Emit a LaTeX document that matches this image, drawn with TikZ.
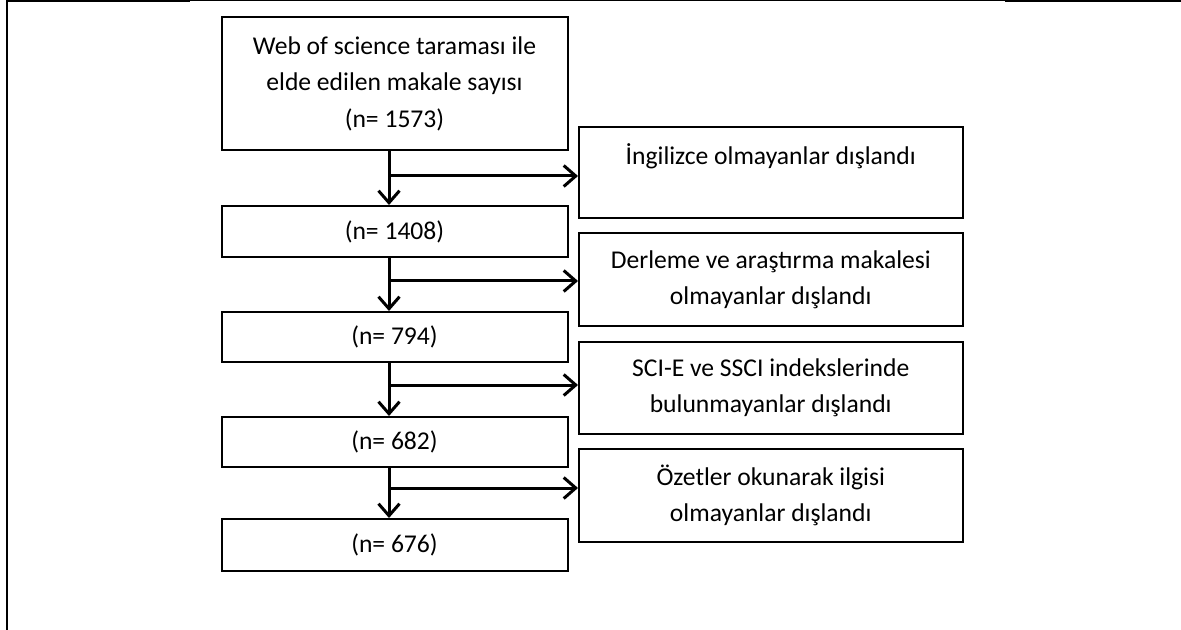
\documentclass[tikz,border=0pt]{standalone}
\usepackage{fontspec}
\setmainfont{Carlito}
\usetikzlibrary{arrows.meta}
\begin{document}
\begin{tikzpicture}[x=0.5pt,y=-0.5pt,
  box/.style={draw, line width=1pt, inner sep=0pt, align=center, font=\fontsize{12.8}{18.2}\selectfont},
  lbox/.style={box, minimum width=173pt},
  rbox/.style={box, minimum width=191.75pt},
  arr/.style={line width=1.5pt, -{Straight Barb[length=6pt,width=10.5pt]}}]
\useasboundingbox (0,0) rectangle (1181,630);
% frame
\draw[line width=1pt] (7,0) -- (7,630);
\draw[line width=1pt] (6,1) -- (190,1);
\draw[line width=0.5pt] (190,0.5) -- (1005,0.5);
\draw[line width=1pt] (1005,1) -- (1181,1);
% left column
\node[lbox, minimum height=66.5pt] (b1) at (394.5,83.5) {Web of science taraması ile\\elde edilen makale sayısı\\(n= 1573)};
\node[lbox, minimum height=25.5pt] (b2) at (394.5,231.5) {(n= 1408)};
\node[lbox, minimum height=25pt] (b3) at (394.5,337) {(n= 794)};
\node[lbox, minimum height=25pt] (b4) at (394.5,442) {(n= 682)};
\node[lbox, minimum height=26pt] (b5) at (394.5,545) {(n= 676)};
% right column
\node[rbox, minimum height=45.5pt] (r1) at (770.75,172.5) {İngilizce olmayanlar dışlandı\\[-5pt]\strut};
\node[rbox, minimum height=46.5pt] (r2) at (770.75,279.5) {Derleme ve araştırma makalesi\\olmayanlar dışlandı};
\node[rbox, minimum height=46pt] (r3) at (770.75,388) {SCI-E ve SSCI indekslerinde\\bulunmayanlar dışlandı};
\node[rbox, minimum height=46.5pt] (r4) at (770.75,495.5) {Özetler okunarak ilgisi\\olmayanlar dışlandı};
% connectors
\coordinate (ax) at (389,0);
\coordinate (j1) at (389,176);
\coordinate (j2) at (389,281);
\coordinate (j3) at (389,385);
\coordinate (j4) at (389,488);
\draw[arr] (b1.south -| ax) -- (b2.north -| ax);
\draw[arr] (b2.south -| ax) -- (b3.north -| ax);
\draw[arr] (b3.south -| ax) -- (b4.north -| ax);
\draw[arr] (b4.south -| ax) -- (b5.north -| ax);
\draw[arr] (j1) -- (j1 -| r1.west);
\draw[arr] (j2) -- (j2 -| r2.west);
\draw[arr] (j3) -- (j3 -| r3.west);
\draw[arr] (j4) -- (j4 -| r4.west);
\end{tikzpicture}
\end{document}
